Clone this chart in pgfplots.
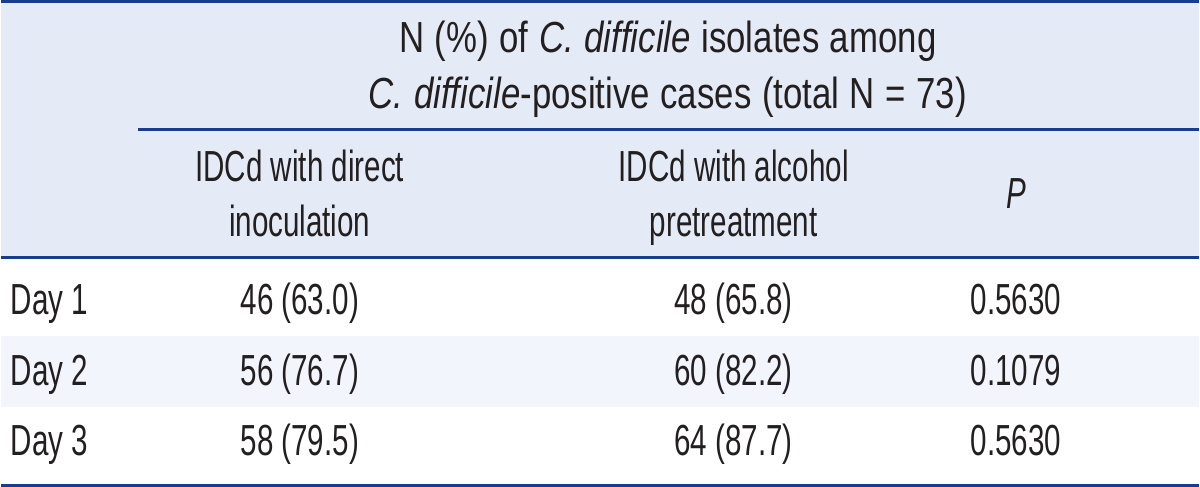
\documentclass[border=0pt]{standalone}
\usepackage{fontspec}
\setmainfont[FakeStretch=0.68]{Liberation Sans}
\newfontfamily\hdrfont[FakeStretch=0.8]{Liberation Sans}
\usepackage{pgfplots}
\usepackage{pgfplotstable}
\pgfplotsset{compat=1.18}
\definecolor{navy}{RGB}{22,62,140}
\definecolor{hdr}{RGB}{228,234,246}
\definecolor{band}{RGB}{242,245,251}
\definecolor{ink}{RGB}{35,31,32}

\pgfplotstableread[col sep=comma]{
x,y,label
9,315,Day 1
9,386,Day 2
9,457,Day 3
}\rowlabels
\pgfplotstableread[col sep=comma]{
x,y,label
299,315,46 (63.0)
299,386,56 (76.7)
299,457,58 (79.5)
}\colA
\pgfplotstableread[col sep=comma]{
x,y,label
734,315,48 (65.8)
734,386,60 (82.2)
734,457,64 (87.7)
}\colB
\pgfplotstableread[col sep=comma]{
x,y,label
1017,315,0.5630
1017,386,0.1079
1017,457,0.5630
}\colC

\newcommand{\tf}{\fontsize{21.8pt}{26pt}\selectfont}
\newcommand{\hf}{\hdrfont\fontsize{21.8pt}{26pt}\selectfont\spaceskip=5.3pt\relax}

\begin{document}
\begin{tikzpicture}
\begin{axis}[
  width=600pt, height=244pt, scale only axis,
  xmin=0, xmax=1200, ymin=0, ymax=488, y dir=reverse,
  axis lines=none, ticks=none, clip=false,
  every node near coord/.append style={anchor=base, font=\tf, text=ink, inner sep=0pt},
]
% backgrounds
\addplot[fill=hdr, draw=none] coordinates {(0,0) (1200,0) (1200,258) (0,258)};
\addplot[fill=band, draw=none] coordinates {(0,337) (1200,337) (1200,408) (0,408)};
% rules
\addplot[navy, line width=1.5pt] coordinates {(0,1.5) (1200,1.5)};
\addplot[navy, line width=1.3pt] coordinates {(137,130) (1200,130)};
\addplot[navy, line width=1.3pt] coordinates {(0,258) (1200,258)};
\addplot[navy, line width=1.5pt] coordinates {(0,486.5) (1200,486.5)};
% header text
\node[anchor=base, font=\hf, text=ink, inner sep=0pt] at (axis cs:668,53) {N (\%) of \textit{C. difficile} isolates among};
\node[anchor=base, font=\hf, text=ink, inner sep=0pt] at (axis cs:668,109) {\textit{C. difficile}-positive cases (total N = 73)};
\node[anchor=base, font=\tf, text=ink, inner sep=0pt] at (axis cs:299,182) {IDCd with direct};
\node[anchor=base, font=\tf, text=ink, inner sep=0pt] at (axis cs:299,237) {inoculation};
\node[anchor=base, font=\tf, text=ink, inner sep=0pt] at (axis cs:734,182) {IDCd with alcohol};
\node[anchor=base, font=\tf, text=ink, inner sep=0pt] at (axis cs:734,237) {pretreatment};
\node[anchor=base, font=\tf, text=ink, inner sep=0pt] at (axis cs:1017,209) {\textit{P}};
% body cells
\addplot[draw=none, mark=none, nodes near coords, point meta=explicit symbolic,
  every node near coord/.append style={anchor=base west}] table[x=x, y=y, meta=label] {\rowlabels};
\addplot[draw=none, mark=none, nodes near coords, point meta=explicit symbolic] table[x=x, y=y, meta=label] {\colA};
\addplot[draw=none, mark=none, nodes near coords, point meta=explicit symbolic] table[x=x, y=y, meta=label] {\colB};
\addplot[draw=none, mark=none, nodes near coords, point meta=explicit symbolic] table[x=x, y=y, meta=label] {\colC};
\end{axis}
\end{tikzpicture}
\end{document}
